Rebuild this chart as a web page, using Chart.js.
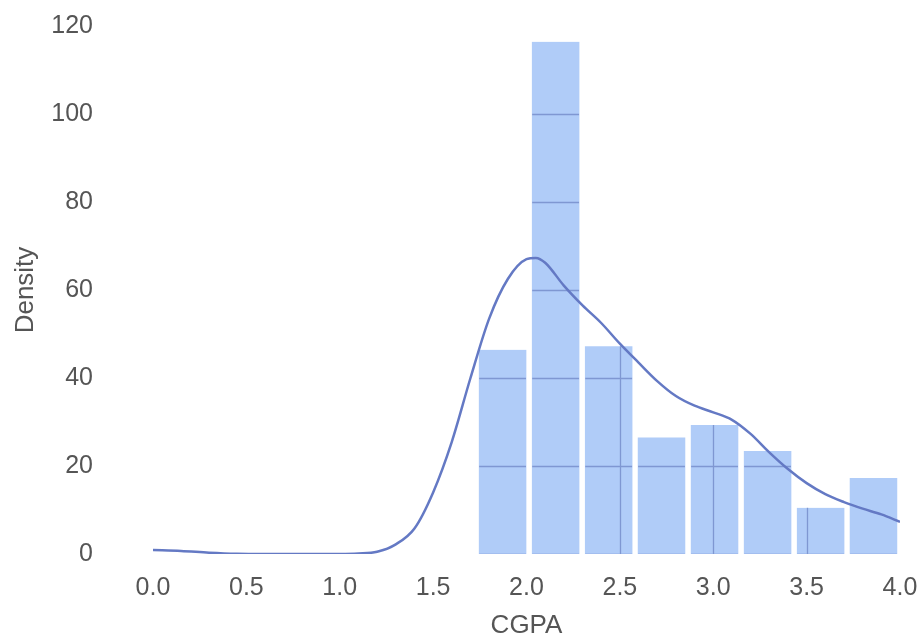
<!DOCTYPE html>
<html>
<head>
<meta charset="utf-8">
<title>CGPA</title>
<script src="https://cdn.jsdelivr.net/npm/chart.js@4"></script>
<style>
  html, body { margin: 0; padding: 0; background: #fff; }
  #wrap { width: 920px; height: 635px; }
</style>
</head>
<body>
<div id="wrap"><canvas id="cgpaChart" width="920" height="635"></canvas></div>
<script>
// histogram bins (centres) and heights
const binCenters = [1.872, 2.156, 2.440, 2.723, 3.007, 3.291, 3.575, 3.858];
const binHeights = [46.4, 116.4, 47.2, 26.5, 29.3, 23.4, 10.5, 17.3];

// kde curve
const kdeX = [0.0, 0.15, 0.3, 0.45, 0.6, 0.8, 1.0, 1.1, 1.2, 1.3, 1.4, 1.5, 1.6, 1.7, 1.8, 1.9, 2.0, 2.05, 2.1, 2.2, 2.3, 2.4,
              2.5, 2.6, 2.7, 2.8, 2.9, 3.0, 3.1, 3.2, 3.3, 3.4, 3.5, 3.6, 3.7, 3.8, 3.9, 4.0];
const kdeY = [0.9, 0.7, 0.3, 0.05, 0, 0, 0, 0.1, 0.5, 2.2, 5.8, 14, 25.5, 40, 53.5, 62.5, 67, 67.3, 66.2, 61, 56.5, 52.5,
              47.8, 43.5, 39.3, 35.9, 33.7, 32.2, 30.5, 27.3, 23.1, 19.3, 16.1, 13.6, 11.8, 10.3, 9.0, 7.3];

const xTicks = [0, 0.5, 1, 1.5, 2, 2.5, 3, 3.5, 4];
const yTicks = [0, 20, 40, 60, 80, 100, 120];

const textColor = '#555555';
const fontFamily = '"Liberation Sans", Arial, sans-serif';

// grid lines only show through the bars
const barGridPlugin = {
    id: 'barGrid',
    afterDatasetDraw(chart, args) {
        if (args.index !== 1) return;
        const ctx = chart.ctx;
        const xs = chart.scales.x;
        const ys = chart.scales.y;
        ctx.save();
        ctx.beginPath();
        args.meta.data.forEach(bar => {
            const p = bar.getProps(['x', 'y', 'base', 'width'], true);
            ctx.rect(p.x - p.width / 2 + 3, p.y, p.width - 6, p.base - p.y);
        });
        ctx.clip();
        ctx.strokeStyle = 'rgba(95, 115, 185, 0.6)';
        ctx.lineWidth = 1.3;
        ctx.beginPath();
        yTicks.forEach(v => {
            const y = Math.round(ys.getPixelForValue(v)) + 0.5;
            ctx.moveTo(xs.left, y);
            ctx.lineTo(xs.right, y);
        });
        xTicks.forEach(v => {
            const x = Math.round(xs.getPixelForValue(v)) + 0.5;
            ctx.moveTo(x, ys.top);
            ctx.lineTo(x, ys.bottom);
        });
        ctx.stroke();
        ctx.restore();
    }
};

const ctx = document.getElementById('cgpaChart').getContext('2d');

new Chart(ctx, {
    type: 'bar',
    data: {
        datasets: [
            {
                type: 'line',
                label: 'KDE',
                data: kdeX.map((x, i) => ({ x: x, y: kdeY[i] })),
                borderColor: '#6479c4',
                borderWidth: 2.5,
                pointRadius: 0,
                fill: false,
                cubicInterpolationMode: 'monotone'
            },
            {
                type: 'bar',
                label: 'CGPA',
                data: binCenters.map((x, i) => ({ x: x, y: binHeights[i] })),
                backgroundColor: '#b0ccf8',
                borderColor: '#ffffff',
                borderWidth: { left: 3, right: 3, top: 0, bottom: 0 },
                categoryPercentage: 1,
                barPercentage: 1
            }
        ]
    },
    options: {
        responsive: false,
        animation: false,
        layout: { padding: { top: 26, right: 20, left: 0, bottom: 0 } },
        plugins: {
            legend: { display: false },
            tooltip: { enabled: false }
        },
        scales: {
            x: {
                type: 'linear',
                offset: false,
                min: 0,
                max: 4,
                grid: { display: false, drawTicks: false, offset: false },
                border: { display: false },
                afterBuildTicks: scale => { scale.ticks = xTicks.map(v => ({ value: v })); },
                ticks: {
                    padding: 19,
                    color: textColor,
                    font: { family: fontFamily, size: 25 },
                    callback: v => v.toFixed(1)
                },
                title: {
                    display: true,
                    text: 'CGPA',
                    color: textColor,
                    font: { family: fontFamily, size: 26, lineHeight: 0.7 },
                    padding: 0
                },
                afterFit: scale => {
                    scale.height = 81;
                    scale.paddingLeft = 0;
                    scale.paddingRight = 0;
                }
            },
            y: {
                min: 0,
                max: 120,
                grid: { display: false, drawTicks: false },
                border: { display: false },
                afterBuildTicks: scale => { scale.ticks = yTicks.map(v => ({ value: v })); },
                ticks: {
                    padding: 60,
                    color: textColor,
                    font: { family: fontFamily, size: 25 }
                },
                title: {
                    display: true,
                    text: 'Density',
                    color: textColor,
                    font: { family: fontFamily, size: 26 },
                    padding: { top: 10, bottom: 0 }
                },
                afterFit: scale => {
                    scale.width = 153;
                    scale.paddingTop = 0;
                    scale.paddingBottom = 0;
                }
            }
        }
    },
    plugins: [barGridPlugin]
});
</script>
</body>
</html>
